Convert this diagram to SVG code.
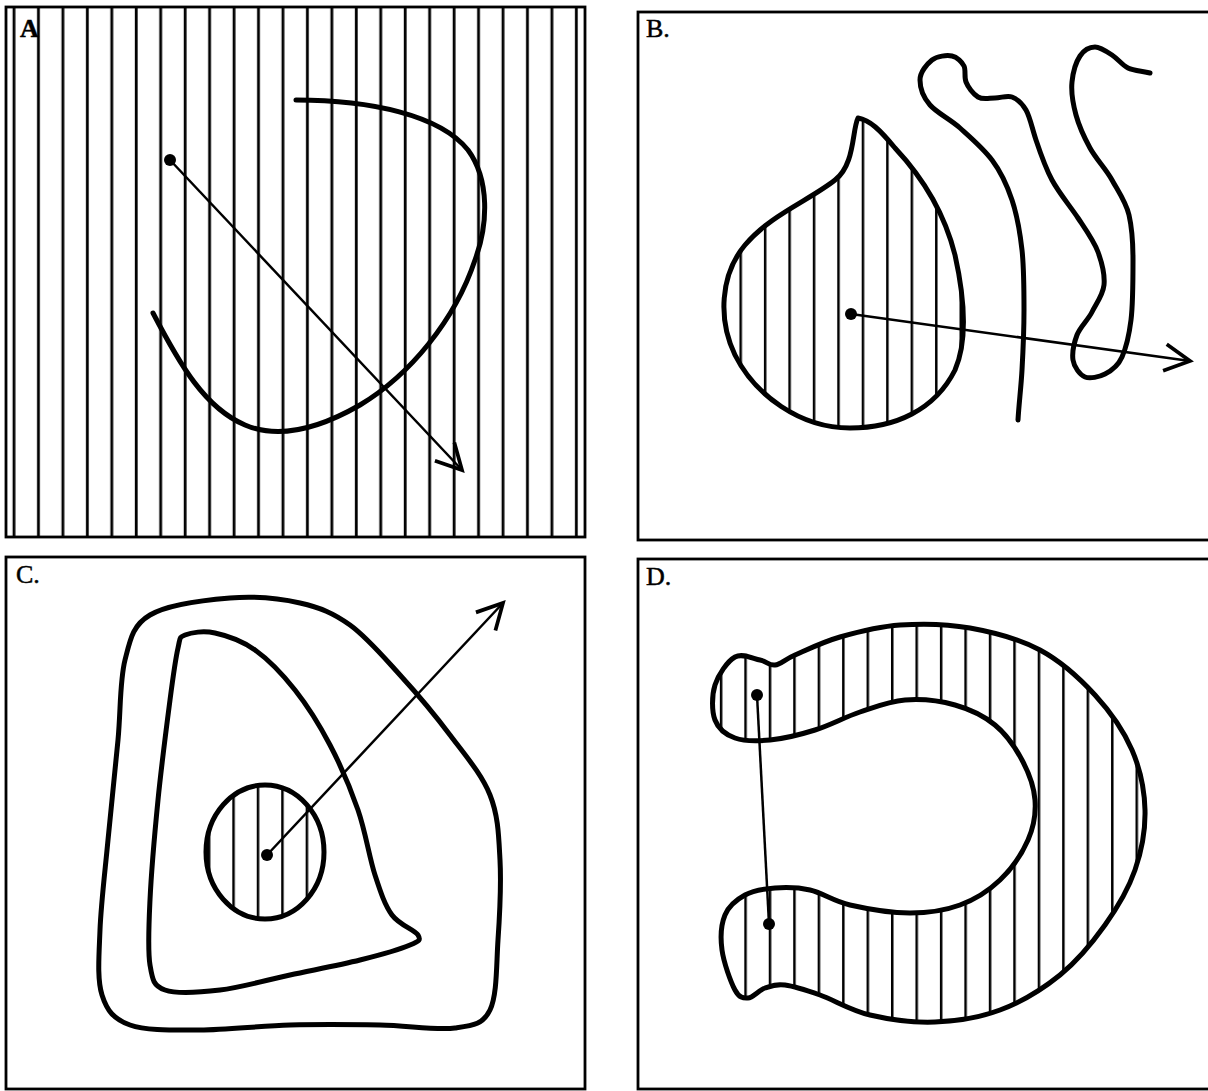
<svg xmlns="http://www.w3.org/2000/svg" width="1208" height="1091" viewBox="0 0 1208 1091">
<style>
.frame{fill:none;stroke:#000;stroke-width:2.8}
.outline{fill:none;stroke:#000;stroke-width:5;stroke-linejoin:round;stroke-linecap:round}
.arrow{fill:none;stroke:#000;stroke-width:2.5}
.dot{fill:#000}
.lbl{font-family:"Liberation Serif",serif;font-size:26px;fill:#000;stroke:#000;stroke-width:0.5}
</style>
<defs>
<pattern id="hA" patternUnits="userSpaceOnUse" x="2" y="0" width="24.45" height="1091"><line x1="12" y1="0" x2="12" y2="1091" stroke="#000" stroke-width="2.8"/></pattern>
<pattern id="hB" patternUnits="userSpaceOnUse" x="826.5" y="0" width="24.45" height="1091"><line x1="12" y1="0" x2="12" y2="1091" stroke="#000" stroke-width="2.5"/></pattern>
<pattern id="hC" patternUnits="userSpaceOnUse" x="246" y="0" width="24.45" height="1091"><line x1="12" y1="0" x2="12" y2="1091" stroke="#000" stroke-width="2.5"/></pattern>
<pattern id="hD" patternUnits="userSpaceOnUse" x="758" y="0" width="24.45" height="1091"><line x1="12" y1="0" x2="12" y2="1091" stroke="#000" stroke-width="2.5"/></pattern>
<marker id="ah" markerUnits="userSpaceOnUse" markerWidth="40" markerHeight="40" viewBox="-25 -15 30 30" refX="0" refY="0" orient="auto" overflow="visible"><path d="M-19,-10 L0,0 L-19,10" fill="none" stroke="#000" stroke-width="2.8" stroke-linejoin="miter"/></marker>
</defs>

<g id="panelA">
<rect x="7" y="8" width="578" height="529" fill="url(#hA)"/>
<rect class="frame" x="6" y="7" width="579" height="530"/>
<text class="lbl" x="20" y="37" font-weight="bold">A</text>
<path class="outline" d="M296,100 C370,100 440,115 468,150 C490,180 488,225 475,260 C455,320 410,375 360,405 C320,428 280,440 245,425 C205,408 180,365 153,313"/>
</g>

<g id="panelB">
<rect class="frame" x="638" y="12" width="580" height="528"/>
<text class="lbl" x="646" y="37">B.</text>
<path id="blobB" class="outline" style="fill:url(#hB)" d="M858,118 C870,120 880,130 895,148 C925,180 945,215 955,255 C965,300 968,340 955,370 C935,410 895,428 850,428 C800,428 755,395 735,355 C718,320 720,275 745,245 C770,215 810,200 835,180 C855,165 852,130 858,118 Z"/>
<path id="wavyB" class="outline" d="M1018,420 C1019,403 1021,388 1022,370 S1024,330 1024,310 S1024,268 1022,250 S1017,215 1012,200 S1001,172 992,160 S970,137 960,128 S937,113 930,105 S920,88 920,80 S927,64 932,60 S947,55 952,56 S962,62 964,66 S964,77 966,82 S973,94 978,97 S989,98 995,98 S1007,95 1012,97 S1022,103 1026,110 S1032,128 1036,140 S1045,167 1052,180 S1070,206 1078,218 S1094,241 1098,252 S1105,275 1104,285 S1096,304 1092,312 S1080,327 1077,335 S1072,353 1073,360 S1080,375 1085,377 S1099,377 1105,374 S1118,366 1122,357 S1129,336 1131,320 S1133,278 1133,260 S1132,228 1129,215 S1118,191 1112,180 S1096,159 1090,148 S1079,126 1076,115 S1071,92 1072,82 S1076,62 1080,56 S1090,47 1095,47 S1106,51 1112,55 S1122,65 1128,68 S1143,71 1150,73"/>
</g>

<g id="panelC">
<rect class="frame" x="6" y="557" width="579" height="532"/>
<text class="lbl" x="16" y="583">C.</text>
<path id="outerC" class="outline" d="M230,598 C255,596 280,598.5 300,603 S333.3,613 350,625 S383.3,656.7 400,675 S435,715 450,735 S481.7,774.2 490,795 S498.7,835.8 500,860 S499.7,915 498,940 S497.2,995.3 490,1010 S473.3,1025.5 455,1028 S407.5,1025.5 380,1025 S320,1024.2 290,1025 S226.7,1030 200,1030 S146.3,1030.8 130,1025 S107,1010.8 102,995 S99,955.8 100,930 S105,871.7 108,840 S115.2,770 118,740 S119.7,680.8 125,660 S132.5,625.3 150,615 S205,600 230,598 Z"/>
<path id="innerC" class="outline" d="M185,635 C191.2,632.5 203.3,630.5 215,633 S241.7,640.5 255,650 S282.5,674.2 295,690 S319.5,725 330,745 S350.5,788.3 358,810 S369.3,857.5 375,875 S384.8,905 392,915 S415,930 418,935 S419.7,940.8 410,945 S380,955 360,960 S313.3,970 290,975 S240.8,987.5 220,990 S176.7,994.2 165,990 S152.5,980 150,965 S148.7,927.5 150,900 S154.7,833.3 158,800 S166.7,725.3 170,700 S175.5,658.8 178,648 S178.8,637.5 185,635 Z"/>
<ellipse id="ovalC" class="outline" style="fill:url(#hC)" cx="265" cy="852" rx="59" ry="67"/>
</g>

<g id="panelD">
<rect class="frame" x="638" y="559" width="580" height="530"/>
<text class="lbl" x="646" y="585">D.</text>
<path id="horseshoe" class="outline" style="fill:url(#hD)" d="M735,657 C742.5,652.8 753.3,658.7 760,660 S769.2,665.8 775,665 S784.2,659.7 795,655 S822.5,642 840,637 S878.3,626.5 900,625 S946.7,623.8 970,628 S1019.2,638.8 1040,650 S1079.7,678.3 1095,695 S1123.7,730.8 1132,750 S1144.5,790 1145,810 S1141.7,850.8 1135,870 S1117.5,907.5 1105,925 S1077.5,960.8 1060,975 S1020.8,1002.2 1000,1010 S956.7,1021.2 935,1022 S889.2,1019.5 870,1015 S834.2,1000 820,995 S794.2,986.2 785,985 S771.2,985.8 765,988 S753,997.7 748,998 S739.3,998 735,990 S723.7,962.5 722,950 S721.2,924.2 725,915 S736.7,899.5 745,895 S764.2,888.8 775,888 S797.5,887.2 810,890 S833.3,901.2 850,905 S891.7,913 910,913 S945,910.5 960,905 S988.7,890.8 1000,880 S1022.2,853.3 1028,840 S1036,813.3 1035,800 S1028.7,772.5 1022,760 S1006.2,734.2 995,725 S970,709.2 955,705 S920.8,698.8 905,700 S875,707 860,712 S830,725.3 815,730 S783.3,738.7 770,740 S744.2,741.3 735,738 S718.3,728.8 715,720 S711.7,695.5 715,685 S727.5,661.2 735,657 Z"/>
</g>

<g id="connectors">
<line class="arrow" x1="170" y1="160" x2="462" y2="470" marker-end="url(#ah)"/>
<circle class="dot" cx="170" cy="160" r="6"/>
<line class="arrow" x1="851" y1="314" x2="1190" y2="361" marker-end="url(#ah)"/>
<circle class="dot" cx="851" cy="314" r="6"/>
<line class="arrow" x1="267" y1="855" x2="503" y2="603" marker-end="url(#ah)"/>
<circle class="dot" cx="267" cy="855" r="6"/>
<line class="arrow" x1="757" y1="695" x2="769" y2="924"/>
<circle class="dot" cx="757" cy="695" r="6"/>
<circle class="dot" cx="769" cy="924" r="6"/>
</g>
</svg>
